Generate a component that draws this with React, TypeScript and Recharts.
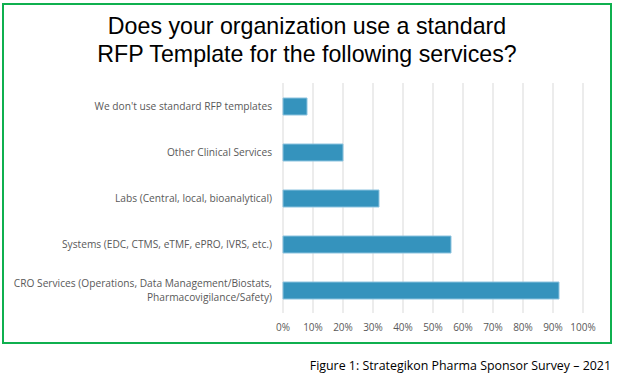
import { BarChart, Bar, XAxis, YAxis, CartesianGrid } from 'recharts'

const services = [
    "We don't use standard RFP templates",
    'Other Clinical Services ',
    'Labs (Central, local, bioanalytical)',
    'Systems (EDC, CTMS, eTMF, ePRO, IVRS, etc.)',
    'CRO Services (Operations, Data Management/Biostats,|Pharmacovigilance/Safety)',
]
const usage = [8, 20, 32, 56, 92]
const pctTicks = [0, 10, 20, 30, 40, 50, 60, 70, 80, 90, 100]

const data = services.map((service, i) => ({ service, usage: usage[i] }))

const labelFont = { fill: '#595959', fontSize: 10, fontFamily: 'Open Sans' }

function ServiceTick({ x, y, payload }: any) {
    const lines = String(payload.value).split('|')
    const lineGap = 14
    const start = y - ((lines.length - 1) * lineGap) / 2
    return (
        <text x={x} y={y} textAnchor="end" {...labelFont} fontSize={10.2}>
            {lines.map((line, i) => (
                <tspan key={i} x={x} y={start + i * lineGap} dy="0.355em">
                    {line}
                </tspan>
            ))}
        </text>
    )
}

export default function App() {
    return (
        <div style={{ position: 'absolute', left: 0, top: 0, width: 620, height: 388, background: '#fff' }}>
            <div
                style={{
                    position: 'absolute',
                    left: 2,
                    top: 3,
                    width: 610,
                    height: 341,
                    boxSizing: 'border-box',
                    border: '2px solid #0fb04f',
                }}
            />
            <div
                style={{
                    position: 'absolute',
                    left: 2,
                    top: 12,
                    width: 610,
                    textAlign: 'center',
                    fontFamily: 'Liberation Sans',
                    fontSize: 23.2,
                    lineHeight: '28px',
                    color: '#000',
                }}
            >
                Does your organization use a standard
                <br />
                RFP Template for the following services?
            </div>
            <div
                style={{
                    position: 'absolute',
                    right: 9,
                    top: 357,
                    fontFamily: 'Open Sans',
                    fontSize: 12.4,
                    lineHeight: '17px',
                    color: '#000',
                    whiteSpace: 'nowrap',
                }}
            >
                Figure 1: Strategikon Pharma Sponsor Survey – 2021
            </div>
            <div style={{ position: 'absolute', left: 0, top: 0 }}>
                <BarChart
                    width={620}
                    height={388}
                    data={data}
                    layout="vertical"
                    margin={{ top: 83, right: 37, bottom: 45, left: 0 }}
                >
                    <CartesianGrid stroke="#d9d9d9" horizontal={false} />
                    <XAxis
                        type="number"
                        domain={[0, 100]}
                        ticks={pctTicks}
                        tickFormatter={(v) => `${v}%`}
                        tick={labelFont}
                        tickLine={false}
                        axisLine={false}
                        tickSize={0}
                        tickMargin={11}
                        height={30}
                        interval={0}
                    />
                    <YAxis
                        dataKey="service"
                        type="category"
                        width={283}
                        tick={<ServiceTick />}
                        tickLine={false}
                        axisLine={false}
                        tickSize={0}
                        tickMargin={11}
                        interval={0}
                    />
                    <Bar
                        dataKey="usage"
                        fill="#3593bd"
                        stroke="#8cc3df"
                        strokeWidth={1}
                        barSize={17}
                        isAnimationActive={false}
                    />
                </BarChart>
            </div>
        </div>
    )
}
